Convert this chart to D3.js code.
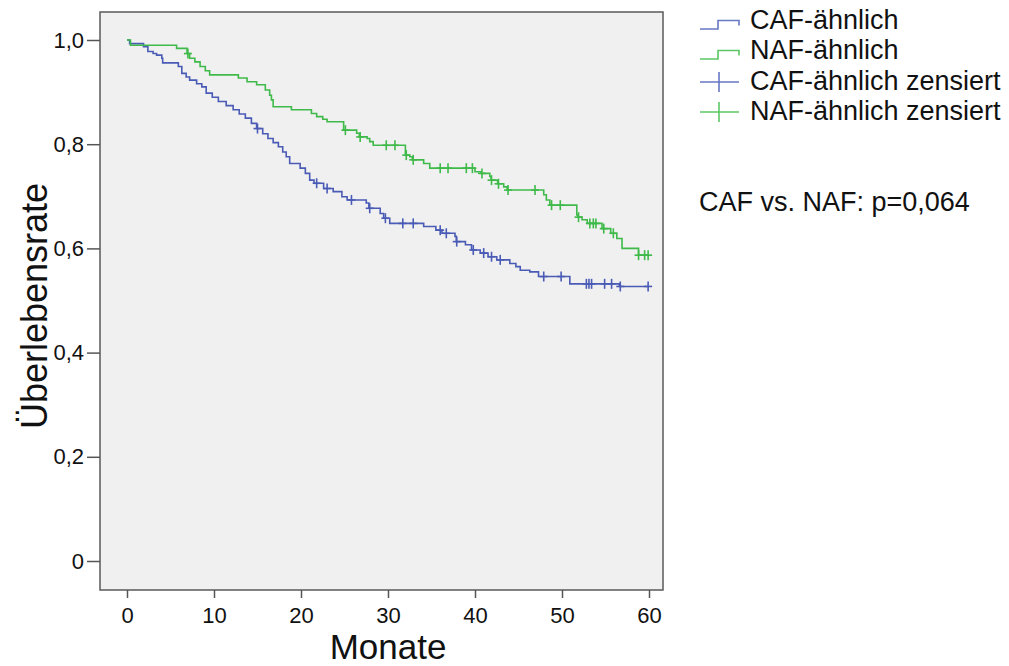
<!DOCTYPE html>
<html>
<head>
<meta charset="utf-8">
<script src="https://cdn.jsdelivr.net/npm/d3@7"></script>
<style>
  html, body { margin: 0; padding: 0; background: #ffffff; }
  svg { display: block; font-family: "Liberation Sans", Arial, sans-serif; }
</style>
</head>
<body>
<svg id="chart" width="1009" height="666"></svg>
<script>
// Kaplan-Meier survival estimates (month, survival after the event)
const cafSteps = [
  [0, 1.0], [0.3, 0.993], [1.9, 0.987], [2.4, 0.978], [3.0, 0.974], [3.4, 0.971],
  [4.0, 0.965], [4.1, 0.956], [5.9, 0.949], [6.3, 0.936], [6.8, 0.929], [7.2, 0.923],
  [8.0, 0.916], [8.6, 0.910], [9.1, 0.898], [9.8, 0.890], [10.5, 0.882], [11.4, 0.874],
  [12.2, 0.866], [12.9, 0.858], [13.6, 0.850], [14.3, 0.840], [14.9, 0.830], [15.6, 0.820],
  [16.2, 0.811], [16.8, 0.803], [17.4, 0.795], [17.9, 0.785], [18.3, 0.776], [18.7, 0.763],
  [19.9, 0.754], [20.5, 0.744], [21.0, 0.731], [21.5, 0.725], [22.6, 0.715], [23.7, 0.709],
  [24.7, 0.699], [25.3, 0.693], [27.5, 0.687], [27.8, 0.677], [29.1, 0.667], [29.5, 0.658],
  [30.2, 0.648], [34.1, 0.642], [35.5, 0.635], [36.2, 0.629], [37.7, 0.623], [37.85, 0.613],
  [38.9, 0.607], [39.6, 0.597], [40.6, 0.591], [41.5, 0.584], [42.5, 0.578], [44.0, 0.571],
  [44.7, 0.565], [45.2, 0.558], [46.3, 0.555], [47.3, 0.546], [50.9, 0.532], [56.6, 0.527]
];
const cafCensored = [15.0, 21.8, 23.0, 25.8, 27.9, 29.7, 31.7, 32.9, 36.0, 36.7, 37.9, 39.8,
  41.0, 41.9, 42.9, 47.9, 49.9, 52.8, 53.1, 53.4, 54.9, 55.7, 56.7, 59.9];

const nafSteps = [
  [0, 1.0], [0.4, 0.990], [5.7, 0.984], [6.9, 0.974], [7.2, 0.965], [7.8, 0.958],
  [8.4, 0.949], [9.0, 0.941], [9.5, 0.933], [12.8, 0.927], [13.8, 0.920], [14.9, 0.914],
  [15.9, 0.904], [16.4, 0.894], [16.6, 0.885], [16.8, 0.872], [18.9, 0.866], [21.2, 0.859],
  [21.8, 0.853], [22.5, 0.848], [23.0, 0.843], [24.9, 0.827], [26.4, 0.821], [26.7, 0.814],
  [27.6, 0.811], [27.9, 0.805], [28.3, 0.798], [32.0, 0.779], [32.5, 0.776], [32.8, 0.770],
  [34.1, 0.763], [34.8, 0.754], [40.0, 0.747], [40.7, 0.744], [41.7, 0.738], [41.85, 0.731],
  [42.6, 0.724], [43.3, 0.718], [43.7, 0.712], [47.9, 0.703], [48.2, 0.693], [48.6, 0.683],
  [51.7, 0.664], [51.85, 0.660], [52.3, 0.655], [52.9, 0.648], [54.6, 0.638], [55.6, 0.629],
  [56.3, 0.619], [56.9, 0.600], [58.8, 0.587]
];
const nafCensored = [7.0, 25.1, 26.8, 29.8, 30.8, 32.1, 32.9, 36.0, 36.9, 39.0, 39.7, 40.8,
  41.9, 42.7, 43.8, 46.9, 48.8, 49.8, 51.9, 53.2, 53.6, 53.9, 54.8, 55.9, 58.8, 59.5, 59.9];

const xTicks = [0, 10, 20, 30, 40, 50, 60];
const yTicks = [0, 0.2, 0.4, 0.6, 0.8, 1.0];
const legendLabels = ["CAF-ähnlich", "NAF-ähnlich", "CAF-ähnlich zensiert", "NAF-ähnlich zensiert"];
const pValueText = "CAF vs. NAF: p=0,064";
const followUpEnd = 60;

const blue = "#4a5bb6";
const green = "#3fba4a";

const svg = d3.select("#chart");
const frame = { left: 100, top: 12, right: 663, bottom: 590 };

const x = d3.scaleLinear().domain([0, 60]).range([127, 649]);
const y = d3.scaleLinear().domain([0, 1]).range([561, 40]);

// plot background and frame
svg.append("rect")
  .attr("x", frame.left).attr("y", frame.top)
  .attr("width", frame.right - frame.left).attr("height", frame.bottom - frame.top)
  .attr("fill", "#f0f0f0").attr("stroke", "#5a5a5a").attr("stroke-width", 1.5);

// axes
const fmt = d => d === 0 ? "0" : d3.format(".1f")(d).replace(".", ",");
const yAxis = svg.append("g")
  .attr("transform", `translate(${frame.left},0)`)
  .call(d3.axisLeft(y).tickValues(yTicks).tickFormat(fmt).tickSize(13).tickPadding(3));
const xAxis = svg.append("g")
  .attr("transform", `translate(0,${frame.bottom})`)
  .call(d3.axisBottom(x).tickValues(xTicks).tickFormat(d3.format("d")).tickSize(8).tickPadding(9));
[yAxis, xAxis].forEach(g => {
  g.select(".domain").remove();
  g.selectAll(".tick line").attr("stroke", "#555").attr("stroke-width", 1.5);
  g.selectAll(".tick text").attr("fill", "#111").attr("font-size", 22)
    .attr("font-family", "Liberation Sans, Arial, sans-serif");
});

// axis titles
svg.append("text")
  .attr("transform", "translate(47,306) rotate(-90)")
  .attr("text-anchor", "middle").attr("font-size", 36).attr("fill", "#111")
  .text("Überlebensrate");
svg.append("text")
  .attr("x", 388).attr("y", 659)
  .attr("text-anchor", "middle").attr("font-size", 35).attr("fill", "#111")
  .text("Monate");

// survival curves
function survivalAt(steps, t) {
  let s = steps[0][1];
  for (const [ti, si] of steps) { if (ti <= t) s = si; else break; }
  return s;
}
const line = d3.line().x(d => x(d[0])).y(d => y(d[1])).curve(d3.curveStepAfter);

function drawSeries(steps, censored, color) {
  const pts = steps.concat([[followUpEnd, steps[steps.length - 1][1]]]);
  svg.append("path").datum(pts)
    .attr("d", line).attr("fill", "none")
    .attr("stroke", color).attr("stroke-width", 1.6);
  const g = svg.append("g").attr("stroke", color).attr("stroke-width", 1.6);
  censored.forEach(t => {
    const cx = x(t), cy = y(survivalAt(steps, t));
    g.append("line").attr("x1", cx - 4).attr("x2", cx + 4).attr("y1", cy).attr("y2", cy);
    g.append("line").attr("x1", cx).attr("x2", cx).attr("y1", cy - 5).attr("y2", cy + 5);
  });
}
drawSeries(cafSteps, cafCensored, blue);
drawSeries(nafSteps, nafCensored, green);

// legend
const legendBaselines = [29, 59, 90, 120];
const lg = svg.append("g");
legendLabels.forEach((label, i) => {
  const color = i % 2 === 0 ? "#6677c4" : "#5cc765";
  const b = legendBaselines[i];
  if (i < 2) {
    lg.append("path")
      .attr("d", `M700,${b} H718 V${b - 8.5} H739 V${b - 3.5}`)
      .attr("fill", "none").attr("stroke", color).attr("stroke-width", 1.6);
  } else {
    lg.append("line").attr("x1", 700).attr("x2", 739).attr("y1", b - 8).attr("y2", b - 8)
      .attr("stroke", color).attr("stroke-width", 1.6);
    lg.append("line").attr("x1", 719).attr("x2", 719).attr("y1", b - 18).attr("y2", b + 2)
      .attr("stroke", color).attr("stroke-width", 1.6);
  }
  lg.append("text").attr("x", 750).attr("y", b)
    .attr("font-size", 27).attr("fill", "#111").text(label);
});

svg.append("text").attr("x", 699).attr("y", 211)
  .attr("font-size", 27).attr("fill", "#111").text(pValueText);
</script>
</body>
</html>
